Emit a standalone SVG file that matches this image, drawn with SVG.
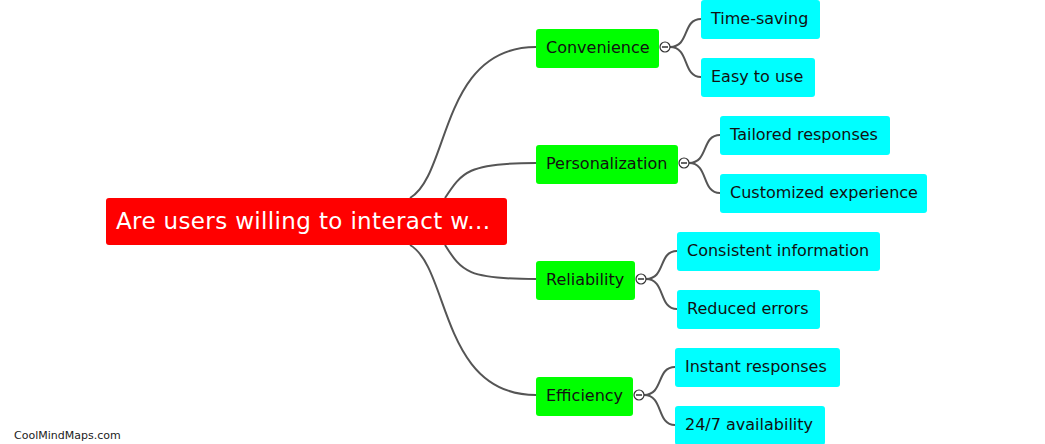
<svg xmlns="http://www.w3.org/2000/svg" width="1045" height="444" viewBox="0 0 1045 444">
<style>
.root{fill:#ff0000}
.l1{fill:#00ff00}
.l2{fill:#00ffff}
.t{font-family:"DejaVu Sans",Verdana,sans-serif;font-size:16px;fill:#111}
.rt{font-family:"DejaVu Sans",Verdana,sans-serif;font-size:23px;fill:#fff}
.c{fill:none;stroke:#555;stroke-width:2}
.tog{fill:#fff;stroke:#333;stroke-width:1.2}
.wm{font-family:"DejaVu Sans",Verdana,sans-serif;font-size:11px;fill:#222}
</style>
<rect width="1045" height="444" fill="#fff"/>
<g id="connectors">
<path class="c" d="M410,198 C450,175 440,47 536,47"/>
<path class="c" d="M445,198 C462,172 468,163 536,163"/>
<path class="c" d="M445,245 C462,272 468,279 536,279"/>
<path class="c" d="M410,245 C450,268 440,395 536,395"/>
<path class="c" d="M670,47 C690,47 682,19 701,19"/>
<path class="c" d="M670,47 C690,47 682,77 701,77"/>
<path class="c" d="M689,163 C709,163 701,135 720,135"/>
<path class="c" d="M689,163 C709,163 701,193 720,193"/>
<path class="c" d="M646,279 C666,279 658,251 677,251"/>
<path class="c" d="M646,279 C666,279 658,309 677,309"/>
<path class="c" d="M644,395 C664,395 656,367 675,367"/>
<path class="c" d="M644,395 C664,395 656,425 675,425"/>
</g>
<g id="root">
<rect class="root" x="106" y="198" width="401" height="47" rx="3"/>
<text class="rt" x="116" y="229" textLength="374" lengthAdjust="spacing">Are users willing to interact w...</text>
</g>
<g id="convenience">
<rect class="l1" x="536" y="29" width="123" height="39" rx="3"/>
<text class="t" x="546" y="53">Convenience</text>
<circle class="tog" cx="665" cy="47" r="5"/><path d="M662,47 h6" stroke="#333" stroke-width="1.5"/>
</g>
<g id="personalization">
<rect class="l1" x="536" y="145" width="142" height="39" rx="3"/>
<text class="t" x="546" y="169">Personalization</text>
<circle class="tog" cx="684" cy="163" r="5"/><path d="M681,163 h6" stroke="#333" stroke-width="1.5"/>
</g>
<g id="reliability">
<rect class="l1" x="536" y="261" width="99" height="39" rx="3"/>
<text class="t" x="546" y="285">Reliability</text>
<circle class="tog" cx="641" cy="279" r="5"/><path d="M638,279 h6" stroke="#333" stroke-width="1.5"/>
</g>
<g id="efficiency">
<rect class="l1" x="536" y="377" width="97" height="39" rx="3"/>
<text class="t" x="546" y="401">Efficiency</text>
<circle class="tog" cx="639" cy="395" r="5"/><path d="M636,395 h6" stroke="#333" stroke-width="1.5"/>
</g>
<g id="time-saving">
<rect class="l2" x="701" y="0" width="119" height="39" rx="3"/>
<text class="t" x="711" y="24">Time-saving</text>
</g>
<g id="easy-to-use">
<rect class="l2" x="701" y="58" width="114" height="39" rx="3"/>
<text class="t" x="711" y="82">Easy to use</text>
</g>
<g id="tailored-responses">
<rect class="l2" x="720" y="116" width="170" height="39" rx="3"/>
<text class="t" x="730" y="140">Tailored responses</text>
</g>
<g id="customized-experience">
<rect class="l2" x="720" y="174" width="207" height="39" rx="3"/>
<text class="t" x="730" y="198">Customized experience</text>
</g>
<g id="consistent-information">
<rect class="l2" x="677" y="232" width="203" height="39" rx="3"/>
<text class="t" x="687" y="256">Consistent information</text>
</g>
<g id="reduced-errors">
<rect class="l2" x="677" y="290" width="143" height="39" rx="3"/>
<text class="t" x="687" y="314">Reduced errors</text>
</g>
<g id="instant-responses">
<rect class="l2" x="675" y="348" width="165" height="39" rx="3"/>
<text class="t" x="685" y="372">Instant responses</text>
</g>
<g id="availability">
<rect class="l2" x="675" y="406" width="150" height="39" rx="3"/>
<text class="t" x="685" y="430">24/7 availability</text>
</g>
<text class="wm" x="14" y="439">CoolMindMaps.com</text>
</svg>
